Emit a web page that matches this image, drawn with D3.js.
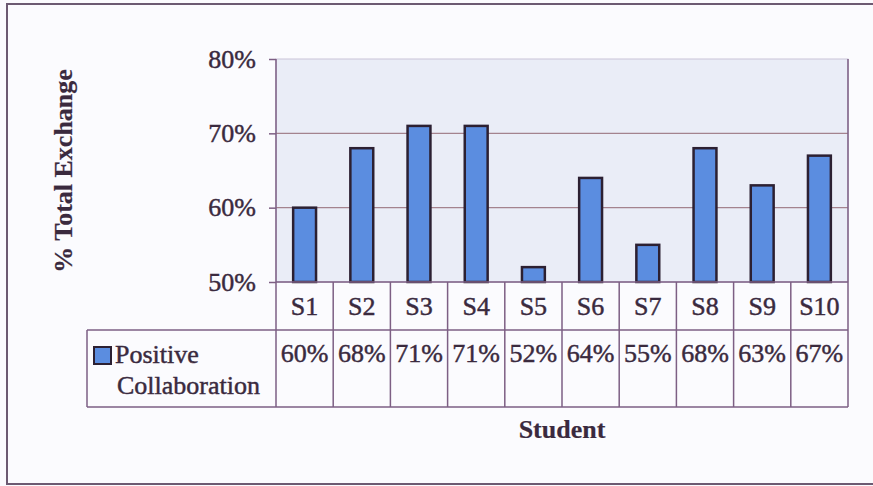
<!DOCTYPE html>
<html>
<head>
<meta charset="utf-8">
<script src="https://cdn.jsdelivr.net/npm/d3@7"></script>
<style>
  html, body { margin: 0; padding: 0; background: #fbfbfe; }
  svg { display: block; }
</style>
</head>
<body>
<svg id="chart" width="873" height="486"></svg>
<script>
// Share of positive collaboration exchanges per student
const students = ["S1", "S2", "S3", "S4", "S5", "S6", "S7", "S8", "S9", "S10"];
const positiveCollaboration = [0.60, 0.68, 0.71, 0.71, 0.52, 0.64, 0.55, 0.68, 0.63, 0.67];
const yTicks = [0.5, 0.6, 0.7, 0.8];
const seriesName = ["Positive", "Collaboration"];
const yTitle = "% Total Exchange";
const xTitle = "Student";

const svg = d3.select("#chart");
const plot = { left: 276, right: 848, top: 59, bottom: 282 };
const table = { legendLeft: 87, rowSplit: 330, bottom: 407 };

const textColor = "#3a2a3e";
const lineColor = "#7d5f84";
const gridColor = "#a4838e";
const barFill = "#5b8de0";
const barStroke = "#2c2032";
const serif = '"Liberation Serif", "Times New Roman", serif';

const x = d3.scaleBand().domain(students).range([plot.left, plot.right]).paddingInner(0).paddingOuter(0);
const y = d3.scaleLinear().domain([0.5, 0.8]).range([plot.bottom, plot.top]);
const pct = d3.format(".0%");

function styleText(sel, bold) {
  return sel.style("font-family", serif)
    .style("font-size", "26px")
    .style("font-weight", bold ? "bold" : "normal")
    .style("fill", textColor)
    .style("stroke", textColor)
    .style("stroke-width", bold ? "0.2px" : "0.45px");
}

// outer frame
svg.append("rect")
  .attr("x", 7).attr("y", 4).attr("width", 900).attr("height", 480)
  .attr("fill", "none").attr("stroke", "#6c5a72").attr("stroke-width", 2);

// plot area background
svg.append("rect")
  .attr("x", plot.left).attr("y", plot.top)
  .attr("width", plot.right - plot.left).attr("height", plot.bottom - plot.top)
  .attr("fill", "#eaedf7").attr("stroke", "#c9c3d8").attr("stroke-width", 1);

// gridlines
svg.append("g").selectAll("line")
  .data(yTicks.filter(t => t > 0.5 && t < 0.8))
  .join("line")
  .attr("x1", plot.left).attr("x2", plot.right)
  .attr("y1", d => y(d)).attr("y2", d => y(d))
  .attr("stroke", gridColor).attr("stroke-width", 1.4);

// y axis
const yAxis = svg.append("g")
  .attr("transform", `translate(${plot.left},0)`)
  .call(d3.axisLeft(y).tickValues(yTicks).tickFormat(pct).tickSize(7).tickPadding(13));
yAxis.select(".domain").remove();
yAxis.selectAll(".tick line").attr("stroke", lineColor).attr("stroke-width", 1.5);
styleText(yAxis.selectAll(".tick text"), false);

// bars
svg.append("g").selectAll("rect")
  .data(students.map((s, i) => ({ s, v: positiveCollaboration[i] })))
  .join("rect")
  .attr("x", d => x(d.s) + x.bandwidth() * 0.3)
  .attr("width", x.bandwidth() * 0.4)
  .attr("y", d => y(d.v))
  .attr("height", d => y(0.5) - y(d.v))
  .attr("fill", barFill).attr("stroke", barStroke).attr("stroke-width", 2.5);

// data table lines
const tbl = svg.append("g").attr("stroke", lineColor).attr("stroke-width", 1.5).attr("fill", "none");
tbl.append("line").attr("x1", plot.left).attr("x2", plot.right).attr("y1", plot.bottom).attr("y2", plot.bottom);
tbl.append("line").attr("x1", table.legendLeft).attr("x2", plot.right).attr("y1", table.rowSplit).attr("y2", table.rowSplit);
tbl.append("line").attr("x1", table.legendLeft).attr("x2", plot.right).attr("y1", table.bottom).attr("y2", table.bottom);
tbl.append("line").attr("x1", table.legendLeft).attr("x2", table.legendLeft).attr("y1", table.rowSplit).attr("y2", table.bottom);
tbl.append("line").attr("x1", plot.left).attr("x2", plot.left).attr("y1", plot.top).attr("y2", table.bottom);
tbl.selectAll(".col").data(students).join("line")
  .attr("x1", d => x(d) + x.bandwidth()).attr("x2", d => x(d) + x.bandwidth())
  .attr("y1", (d, i) => i === students.length - 1 ? plot.top : plot.bottom)
  .attr("y2", table.bottom);

// category labels
styleText(svg.append("g").selectAll("text").data(students).join("text")
  .attr("x", d => x(d) + x.bandwidth() / 2).attr("y", 315)
  .attr("text-anchor", "middle")
  .text(d => d), false);

// value row
styleText(svg.append("g").selectAll("text").data(positiveCollaboration).join("text")
  .attr("x", (d, i) => x(students[i]) + x.bandwidth() / 2).attr("y", 362)
  .attr("text-anchor", "middle")
  .text(d => pct(d)), false);

// legend key
svg.append("rect").attr("x", 94).attr("y", 347).attr("width", 17).attr("height", 17)
  .attr("fill", barFill).attr("stroke", barStroke).attr("stroke-width", 2);
styleText(svg.append("text").attr("x", 115).attr("y", 363).text(seriesName[0]), false);
styleText(svg.append("text").attr("x", 117).attr("y", 394).text(seriesName[1]), false);

// axis titles
styleText(svg.append("text")
  .attr("transform", "translate(72,171) rotate(-90)")
  .attr("text-anchor", "middle")
  .text(yTitle), true);
styleText(svg.append("text")
  .attr("x", 562).attr("y", 438)
  .attr("text-anchor", "middle")
  .text(xTitle), true);
</script>
</body>
</html>
